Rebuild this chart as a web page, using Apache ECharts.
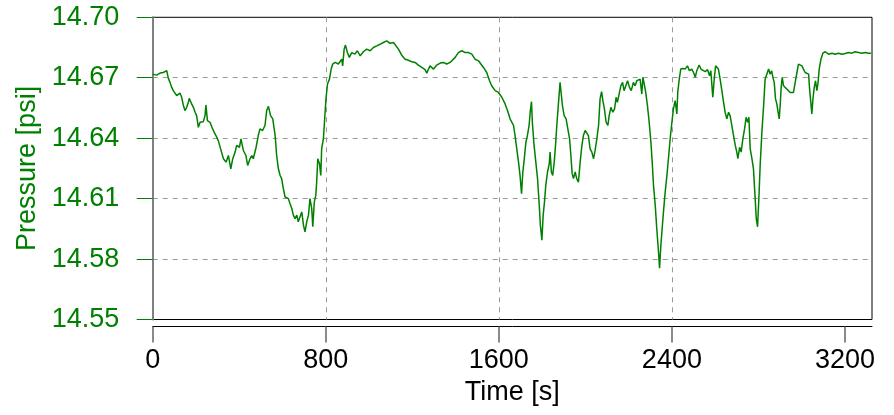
<!DOCTYPE html>
<html>
<head>
<meta charset="utf-8">
<script src="https://cdn.jsdelivr.net/npm/echarts@6/dist/echarts.min.js"></script>
<style>
html,body{margin:0;padding:0;background:#fff;}
#chart{width:894px;height:415px;}
</style>
</head>
<body>
<div id="chart"></div>
<script>
// Time [s]
const times = [
0,18,34,49,57,65,72,80,88,95,103,111,119,126,134,142,149,157,165,169,180,188,196,203,211,219,226,234,242,246,253,265,277,288,296,303,314,327,339,350,361,370,381,388,401,408,419,431,439,450,458,465,478,488,496,508,519,527,535,545,
555,566,573,581,589,596,604,612,619,627,635,643,650,658,666,673,681,689,697,704,712,720,727,735,740,747,754,758,763,771,777,781,789,797,801,808,817,825,832,843,851,858,866,874,878,885,891,900,909,920,935,946,959,974,989,1005,1020,1036,1051,1066,1082,1097,
1113,1120,1136,1151,1167,1182,1198,1213,1228,1244,1259,1267,1275,1282,1290,1298,1305,1313,1329,1344,1359,1375,1382,1398,1413,1429,1444,1460,1475,1490,1506,1517,1529,1544,1557,1567,1583,1598,1614,1629,1640,1652,
1660,1668,1675,1683,1691,1698,1705,1711,1717,1725,1732,1740,1745,1751,1755,1763,1771,1779,1786,1792,1799,1805,1811,1817,1825,1833,1837,1843,1849,1856,1862,1868,1876,1883,1888,1894,1902,1911,1919,1927,1933,1939,1945,1953,1960,1968,1976,1984,1991,1999,2007,2014,2022,2030,2038,2045,2053,2061,2068,2075,2081,2088,2096,2104,2110,2118,2127,2135,2142,2148,2156,2164,2172,2179,2187,2195,2204,2212,
2222,2230,2238,2246,2253,2261,2266,2272,2279,2287,2295,2303,2309,2315,2323,2330,2338,2343,2349,2355,2361,2369,2377,2384,2392,2400,2407,2415,2423,2427,2434,2441,2451,2461,2472,2481,2492,2500,2508,2515,2526,2534,2543,2554,2565,2574,2580,2589,2595,2602,2608,2615,2623,2631,2639,2646,2654,2662,2669,2677,2685,2693,2700,2705,2713,2720,2728,2736,2743,2750,2756,2762,
2770,2777,2785,2790,2796,2802,2808,2816,2824,2831,2839,2847,2854,2861,2867,2873,2879,2885,2891,2896,2901,2905,2910,2916,2924,2931,2939,2947,2955,2962,2970,2978,2985,2993,3001,3008,3016,3024,3032,3036,3042,3047,3052,3058,3064,3070,3075,3081,3089,3098,3109,3124,3140,3155,3170,3186,3201,3217,3232,3247,3263,3278,3294,3309,3320
];
// Pressure [psi]
const pressure = [
14.6718,14.6713,14.6723,14.6726,14.6723,14.6735,14.6698,14.6677,14.6652,14.6636,14.6627,14.6611,14.6614,14.6624,14.6603,14.6562,14.6537,14.6553,14.6578,14.6598,14.6570,14.6553,14.6529,14.6512,14.6454,14.6479,14.6487,14.6482,14.6512,14.6565,14.6487,14.6479,14.6446,14.6421,14.6405,14.6388,14.6347,14.6298,14.6281,14.6314,14.6248,14.6298,14.6331,14.6364,14.6355,14.6397,14.6339,14.6314,14.6265,14.6298,14.6314,14.6298,14.6355,14.6413,14.6446,14.6438,14.6463,14.6537,14.6558,14.6512,
14.6496,14.6413,14.6314,14.6248,14.6215,14.6199,14.6149,14.6108,14.6116,14.6100,14.6075,14.6051,14.6018,14.6001,14.6018,14.5985,14.5976,14.6034,14.5968,14.5935,14.5985,14.6018,14.6100,14.6051,14.5960,14.6083,14.6116,14.6182,14.6298,14.6273,14.6215,14.6347,14.6397,14.6529,14.6595,14.6669,14.6693,14.6743,14.6768,14.6776,14.6784,14.6768,14.6776,14.6792,14.6759,14.6842,14.6862,14.6825,14.6801,14.6825,14.6817,14.6834,14.6809,14.6829,14.6842,14.6834,14.6850,14.6858,14.6866,14.6875,14.6883,14.6871,
14.6875,14.6866,14.6842,14.6812,14.6792,14.6787,14.6779,14.6776,14.6763,14.6751,14.6740,14.6723,14.6743,14.6759,14.6763,14.6743,14.6740,14.6763,14.6773,14.6776,14.6768,14.6776,14.6768,14.6801,14.6825,14.6834,14.6825,14.6825,14.6817,14.6792,14.6784,14.6768,14.6751,14.6726,14.6685,14.6660,14.6636,14.6627,14.6603,14.6570,14.6537,14.6496,
14.6487,14.6463,14.6413,14.6347,14.6281,14.6215,14.6125,14.6232,14.6290,14.6380,14.6413,14.6463,14.6529,14.6581,14.6479,14.6364,14.6281,14.6199,14.6083,14.5968,14.5894,14.6018,14.6083,14.6166,14.6232,14.6273,14.6331,14.6232,14.6215,14.6281,14.6364,14.6463,14.6578,14.6677,14.6680,14.6562,14.6512,14.6496,14.6446,14.6397,14.6314,14.6224,14.6199,14.6232,14.6199,14.6182,14.6281,14.6364,14.6413,14.6438,14.6446,14.6413,14.6347,14.6331,14.6298,14.6339,14.6397,14.6463,14.6595,14.6631,14.6586,14.6545,14.6479,14.6463,14.6512,14.6553,14.6529,14.6545,14.6603,14.6578,14.6619,14.6660,14.6677,14.6636,14.6660,14.6685,14.6652,14.6636,
14.6677,14.6660,14.6685,14.6677,14.6693,14.6619,14.6702,14.6669,14.6627,14.6562,14.6479,14.6380,14.6281,14.6166,14.6067,14.5952,14.5836,14.5755,14.5869,14.5952,14.6034,14.6133,14.6215,14.6298,14.6397,14.6479,14.6545,14.6586,14.6520,14.6627,14.6693,14.6743,14.6746,14.6743,14.6759,14.6735,14.6743,14.6726,14.6702,14.6735,14.6763,14.6743,14.6746,14.6730,14.6740,14.6710,14.6735,14.6603,14.6685,14.6759,14.6763,14.6743,14.6693,14.6636,14.6578,14.6529,14.6496,14.6529,14.6512,14.6463,14.6413,14.6364,14.6331,14.6298,14.6355,14.6331,14.6397,14.6446,14.6504,14.6479,14.6504,14.6347,
14.6298,14.6248,14.6100,14.6001,14.5960,14.6100,14.6265,14.6430,14.6562,14.6693,14.6702,14.6743,14.6718,14.6735,14.6702,14.6677,14.6595,14.6570,14.6529,14.6496,14.6570,14.6652,14.6702,14.6660,14.6657,14.6644,14.6636,14.6627,14.6636,14.6627,14.6677,14.6726,14.6768,14.6776,14.6759,14.6743,14.6726,14.6735,14.6718,14.6652,14.6578,14.6520,14.6595,14.6652,14.6685,14.6636,14.6669,14.6743,14.6792,14.6822,14.6829,14.6817,14.6822,14.6817,14.6822,14.6817,14.6820,14.6825,14.6822,14.6829,14.6825,14.6822,14.6825,14.6822,14.6822
];
const xTicks = [0, 800, 1600, 2400, 3200];
const yTicks = [14.55, 14.58, 14.61, 14.64, 14.67, 14.70];

const green = '#008000';
const font = '"Liberation Sans", Arial, sans-serif';
const chart = echarts.init(document.getElementById('chart'), null, {renderer: 'canvas'});
const seriesData = times.map((t, i) => [t, pressure[i]]);

chart.setOption({
  animation: false,
  backgroundColor: '#fff',
  grid: {left: 152.7, right: 22, top: 17.3, bottom: 95.5, show: true, borderColor: '#000', borderWidth: 1, backgroundColor: 'transparent'},
  xAxis: {
    type: 'value', min: 0, max: 3325, interval: 800, offset: 7,
    name: 'Time [s]', nameLocation: 'middle', nameGap: 53,
    nameTextStyle: {color: '#000', fontSize: 27, fontFamily: font},
    axisLine: {show: true, lineStyle: {color: '#000', width: 1}},
    axisTick: {show: true, length: 16, inside: false, customValues: xTicks, lineStyle: {color: '#666', width: 1.5}},
    axisLabel: {show: true, margin: 21, customValues: xTicks, color: '#000', fontSize: 27, fontFamily: font,
      formatter: v => String(Math.round(v))},
    splitLine: {show: true, showMinLine: false, showMaxLine: false, lineStyle: {color: '#999', type: [5, 5], width: 1}}
  },
  yAxis: [{
    type: 'value', min: 14.55, max: 14.70, interval: 0.03, offset: 7.4, position: 'left',
    name: 'Pressure [psi]', nameLocation: 'middle', nameGap: 99, nameRotate: 90,
    nameTextStyle: {color: green, fontSize: 27, fontFamily: font},
    axisLine: {show: true, lineStyle: {color: green, width: 1}},
    axisTick: {show: true, length: 16, inside: false, customValues: yTicks, lineStyle: {color: green, width: 1}},
    axisLabel: {show: true, margin: 26, customValues: yTicks, color: green, fontSize: 27, fontFamily: font,
      formatter: v => Number(v).toFixed(2)},
    splitLine: {show: true, showMinLine: false, showMaxLine: false, lineStyle: {color: '#999', type: [5, 5], width: 1}}
  }, {
    type: 'value', min: 14.55, max: 14.70, interval: 0.03, offset: 0, position: 'left',
    axisLine: {show: true, lineStyle: {color: '#808080', width: 2}},
    axisTick: {show: false}, axisLabel: {show: false}, splitLine: {show: false}
  }],
  series: [{
    type: 'line', data: seriesData, showSymbol: false, symbol: 'none',
    lineStyle: {color: green, width: 1.5}, itemStyle: {color: green}, z: 3
  }]
});
</script>
</body>
</html>
